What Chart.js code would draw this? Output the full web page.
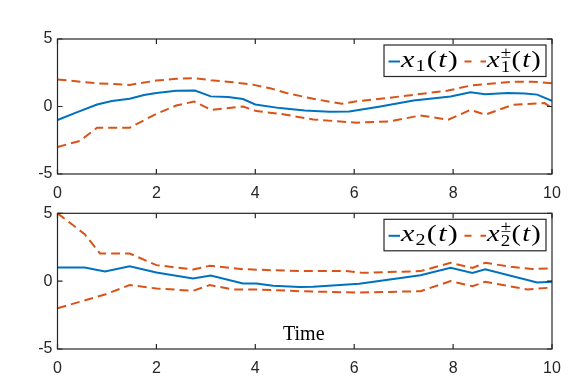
<!DOCTYPE html>
<html>
<head>
<meta charset="utf-8">
<script src="https://cdn.jsdelivr.net/npm/chart.js@4.4.1/dist/chart.umd.min.js"></script>
<style>
    html, body { margin: 0; padding: 0; background: #ffffff; }
    #wrap { position: relative; width: 581px; height: 388px; overflow: hidden; }
    canvas { position: absolute; left: 0; }
    #c1 { top: 0; }
    #c2 { top: 188px; }
</style>
</head>
<body>
<div id="wrap">
    <canvas id="c1" width="581" height="200"></canvas>
    <canvas id="c2" width="581" height="200"></canvas>
</div>
<script>
// ===== dane =====
const xTicks = [0, 2, 4, 6, 8, 10];
const yTicks = [-5, 0, 5];

// x1(t)
const t1 = [0, 0.4, 0.8, 1.1, 1.46, 1.75, 2.0, 2.4, 2.78, 3.1, 3.45, 3.75, 4.0, 4.5, 5.0, 5.5, 5.9, 6.5, 7.2, 7.95, 8.35, 8.65, 9.1, 9.45, 9.7, 10];
const x1 = [-1.0, -0.42, 0.15, 0.4, 0.58, 0.85, 1.0, 1.16, 1.18, 0.75, 0.7, 0.55, 0.15, -0.12, -0.3, -0.38, -0.37, -0.02, 0.44, 0.74, 1.06, 0.9, 1.0, 0.97, 0.88, 0.42];

// x1+(t)
const t1Up = [0, 0.8, 1.46, 2.0, 2.4, 2.75, 3.1, 3.5, 3.95, 4.3, 4.63, 5.17, 5.75, 6.05, 6.7, 7.9, 8.35, 9.2, 9.6, 10];
const x1Up = [2.0, 1.72, 1.6, 1.92, 2.05, 2.1, 1.95, 1.82, 1.62, 1.35, 1.0, 0.57, 0.2, 0.39, 0.64, 1.18, 1.55, 1.84, 1.84, 1.72];

// x1-(t)
const t1Lo = [0, 0.45, 0.8, 1.46, 2.0, 2.4, 2.76, 3.11, 3.75, 4.02, 4.5, 5.17, 6.05, 6.73, 7.34, 7.9, 8.35, 8.65, 9.2, 9.85, 10];
const x1Lo = [-3.0, -2.55, -1.57, -1.57, -0.54, 0.07, 0.37, -0.25, 0.0, -0.34, -0.54, -0.96, -1.2, -1.1, -0.66, -0.98, -0.25, -0.61, 0.12, 0.25, -0.12];

// x2(t)
const t2 = [0, 0.55, 0.96, 1.46, 2.0, 2.74, 3.1, 3.75, 4.02, 4.36, 4.9, 5.17, 6.1, 7.34, 7.95, 8.39, 8.65, 9.7, 10];
const x2 = [1.0, 1.0, 0.72, 1.1, 0.64, 0.2, 0.42, -0.17, -0.17, -0.34, -0.44, -0.42, -0.2, 0.44, 0.98, 0.61, 0.88, -0.1, -0.05];

// x2+(t)
const t2Up = [0, 0.55, 0.86, 1.46, 2.0, 2.74, 3.08, 3.75, 4.9, 5.84, 6.18, 7.34, 7.95, 8.39, 8.65, 9.17, 9.6, 10];
const x2Up = [5.0, 3.46, 2.04, 2.04, 1.18, 0.86, 1.13, 0.88, 0.74, 0.74, 0.61, 0.74, 1.35, 0.98, 1.35, 1.06, 0.9, 0.93];

// x2-(t)
const t2Lo = [0, 0.96, 1.46, 2.0, 2.74, 3.08, 3.55, 4.02, 4.9, 6.05, 7.34, 7.95, 8.39, 8.65, 9.5, 10];
const x2Lo = [-2.0, -0.98, -0.29, -0.54, -0.71, -0.29, -0.61, -0.61, -0.74, -0.84, -0.74, 0.0, -0.37, -0.05, -0.61, -0.47];

// ===== style =====
const BLUE = '#0072BD';
const RED = '#D95319';
const AXIS = '#262626';
const DASH = [9, 5];
const TICK_FONT = { family: "'Liberation Sans', Arial, sans-serif", size: 16 };
const SERIF = "'Liberation Serif', 'Times New Roman', serif";

function pts(t, v) {
    return t.map((x, i) => ({ x: x, y: v[i] }));
}

// ramka osi + ticki skierowane do środka (jak w MATLAB)
const framePlugin = {
    id: 'frame',
    afterDatasetsDraw(chart) {
        const { ctx, chartArea: a, scales } = chart;
        ctx.save();
        ctx.strokeStyle = AXIS;
        ctx.lineWidth = 1.2;
        ctx.strokeRect(a.left, a.top, a.right - a.left, a.bottom - a.top);
        ctx.beginPath();
        const len = 5;
        xTicks.forEach(v => {
            const px = scales.x.getPixelForValue(v);
            ctx.moveTo(px, a.bottom); ctx.lineTo(px, a.bottom - len);
            ctx.moveTo(px, a.top); ctx.lineTo(px, a.top + len);
        });
        yTicks.forEach(v => {
            const py = scales.y.getPixelForValue(v);
            ctx.moveTo(a.left, py); ctx.lineTo(a.left + len, py);
            ctx.moveTo(a.right, py); ctx.lineTo(a.right - len, py);
        });
        ctx.stroke();
        ctx.restore();
    }
};

// kawałki tekstu w stylu LaTeX: [tekst, italic, rozmiar, przesunięcie y, bez przesuwania x]
function mathPieces(idx, pm) {
    const p = [['x', true, 24, 0, false]];
    if (pm) {
        p.push(['\u00B1', false, 16, -9, true]);
        p.push([idx, false, 16, 5, false]);
    } else {
        p.push([idx, false, 16, 4, false]);
    }
    p.push(['(', false, 24, 0, false]);
    p.push(['t', true, 24, 0, false]);
    p.push([')', false, 24, 0, false]);
    return p;
}

function drawMath(ctx, pieces, x, baseline, targetW) {
    ctx.save();
    let w = 0;
    pieces.forEach(p => {
        ctx.font = (p[1] ? 'italic ' : '') + p[2] + 'px ' + SERIF;
        if (!p[4]) w += ctx.measureText(p[0]).width + 1;
    });
    ctx.translate(x, baseline);
    ctx.scale(targetW / w, 1);
    ctx.fillStyle = '#000000';
    ctx.textBaseline = 'alphabetic';
    let cx = 0;
    pieces.forEach(p => {
        ctx.font = (p[1] ? 'italic ' : '') + p[2] + 'px ' + SERIF;
        ctx.fillText(p[0], cx, p[3]);
        if (!p[4]) cx += ctx.measureText(p[0]).width + 1;
    });
    ctx.restore();
}

function legendPlugin(idx, withTime) {
    return {
        id: 'mathLegend',
        afterDraw(chart) {
            const { ctx, chartArea: a } = chart;
            const bx = a.right - 168;
            const by = a.top + 6;
            const bw = 162;
            const bh = 31.5;
            ctx.save();
            ctx.fillStyle = '#ffffff';
            ctx.fillRect(bx, by, bw, bh);
            ctx.strokeStyle = AXIS;
            ctx.lineWidth = 1.2;
            ctx.strokeRect(bx, by, bw, bh);
            const ly = by + 16.5;
            ctx.lineWidth = 2;
            ctx.strokeStyle = BLUE;
            ctx.beginPath();
            ctx.moveTo(bx + 4.5, ly); ctx.lineTo(bx + 16, ly);
            ctx.stroke();
            ctx.strokeStyle = RED;
            ctx.setLineDash([7, 9]);
            ctx.beginPath();
            ctx.moveTo(bx + 80.5, ly); ctx.lineTo(bx + 102, ly);
            ctx.stroke();
            ctx.setLineDash([]);
            drawMath(ctx, mathPieces(idx, false), bx + 17, by + 22, 58);
            drawMath(ctx, mathPieces(idx, true), bx + 103, by + 22, 55);
            if (withTime) {
                ctx.fillStyle = '#000000';
                ctx.font = '20px ' + SERIF;
                ctx.textAlign = 'center';
                ctx.textBaseline = 'alphabetic';
                ctx.fillText('Time', (a.left + a.right) / 2 - 1, a.bottom - 9);
            }
            ctx.restore();
        }
    };
}

function makeChart(id, series, idx, topPad, xAxisH, withTime) {
    const ctx = document.getElementById(id).getContext('2d');
    return new Chart(ctx, {
        type: 'scatter',
        data: {
            datasets: [
                { data: pts(series[0][0], series[0][1]), borderColor: BLUE, borderWidth: 2, showLine: true, pointRadius: 0 },
                { data: pts(series[1][0], series[1][1]), borderColor: RED, borderWidth: 2, borderDash: DASH, showLine: true, pointRadius: 0 },
                { data: pts(series[2][0], series[2][1]), borderColor: RED, borderWidth: 2, borderDash: DASH, showLine: true, pointRadius: 0 }
            ]
        },
        options: {
            responsive: false,
            animation: false,
            layout: { padding: { left: 0, right: 29, top: topPad, bottom: 0 } },
            plugins: {
                legend: { display: false },
                tooltip: { enabled: false }
            },
            scales: {
                x: {
                    type: 'linear',
                    min: 0,
                    max: 10,
                    afterBuildTicks: s => { s.ticks = xTicks.map(v => ({ value: v })); },
                    afterFit: s => { s.height = xAxisH; },
                    grid: { display: false, drawTicks: false },
                    border: { display: false },
                    ticks: { color: AXIS, font: TICK_FONT, padding: 10, maxRotation: 0 }
                },
                y: {
                    type: 'linear',
                    min: -5,
                    max: 5,
                    afterBuildTicks: s => { s.ticks = yTicks.map(v => ({ value: v })); },
                    afterFit: s => { s.width = 57.5; },
                    grid: { display: false, drawTicks: false },
                    border: { display: false },
                    ticks: { color: AXIS, font: TICK_FONT, padding: 5 }
                }
            }
        },
        plugins: [framePlugin, legendPlugin(idx, withTime)]
    });
}

makeChart('c1', [[t1, x1], [t1Up, x1Up], [t1Lo, x1Lo]], '1', 39, 26, false);
makeChart('c2', [[t2, x2], [t2Up, x2Up], [t2Lo, x2Lo]], '2', 25.3, 39, true);
</script>
</body>
</html>
